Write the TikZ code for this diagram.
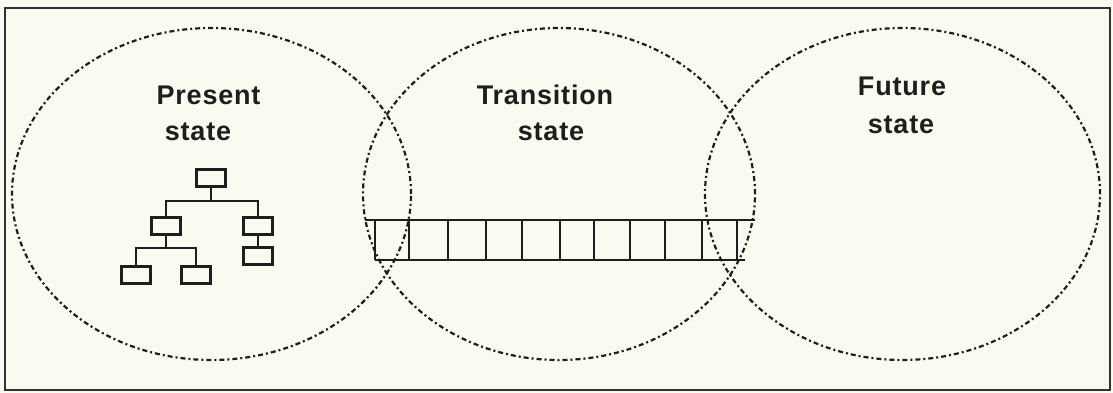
\documentclass[tikz,border=0pt]{standalone}
\usepackage{fontspec}
\newfontfamily\lblfont[LetterSpace=3]{Liberation Sans}
\usetikzlibrary{shapes.geometric}
\definecolor{bgc}{RGB}{250,250,240}
\definecolor{inkc}{RGB}{30,30,30}
\definecolor{framec}{RGB}{50,50,50}
\begin{document}
\begin{tikzpicture}[x=1pt,y=-1pt,
  region/.style={draw=inkc, ellipse, line width=2.2pt, dash pattern=on 5pt off 3pt on 2pt off 3pt, inner sep=0, minimum height=332pt},
  lbl/.style={text=inkc, font=\lblfont\bfseries\fontsize{27}{30}\selectfont, inner sep=0, anchor=base},
  orgbox/.style={draw=inkc, line width=3pt, minimum width=29pt, minimum height=17pt, inner sep=0},
  link/.style={draw=inkc, line width=2pt},
  barline/.style={draw=inkc, line width=2.3pt}]
\fill[bgc] (0,0) rectangle (1113,393);
\useasboundingbox (0,0) rectangle (1113,393);
\draw[framec, line width=2.2pt] (5,8) rectangle (1110,390);

% regions
\node[region, minimum width=399pt] (present) at (211.5,194) {};
\node[region, minimum width=392pt] (transition) at (559,194) {};
\node[region, minimum width=395pt] (future) at (902.5,194) {};

% labels
\node[lbl] (presentA) at (208.5,105) {Present};
\node[lbl] (presentB) at (198,140) {state};
\node[lbl] (transA) at (545,105) {Transition};
\node[lbl] (transB) at (551,140) {state};
\node[lbl] (futureA) at (902,96) {Future};
\node[lbl] (futureB) at (901,133) {state};

% org chart
\node[orgbox] (top) at (211,178) {};
\node[orgbox] (ml) at (165.5,226) {};
\node[orgbox] (mr) at (257.5,226) {};
\node[orgbox] (rb) at (257.5,255.5) {};
\node[orgbox] (bl) at (136,275) {};
\node[orgbox] (bm) at (196,275) {};
\coordinate (j1) at (211,201);
\coordinate (j2) at (165.5,248);
\draw[link] (top.south) -- (j1);
\draw[link] (ml.north) |- (j1) -| (mr.north);
\draw[link] (mr.south) -- (rb.north);
\draw[link] (ml.south) -- (j2);
\draw[link] (bl.north) |- (j2) -| (bm.north);

% transition bar
\coordinate (barTL) at (365,220);
\coordinate (barTR) at (755,220);
\coordinate (barBL) at (375,260);
\coordinate (barBR) at (745,260);
\draw[barline] (barTL) -- (barTR);
\draw[barline] (barBL) -- (barBR);
\draw[draw=inkc, line width=1.2pt] (375,220) -- (375,260);
\foreach \x in {409,448,486,522,560,594,630,665,702,737}
  \draw[barline] (\x,220) -- (\x,260);
\end{tikzpicture}
\end{document}
